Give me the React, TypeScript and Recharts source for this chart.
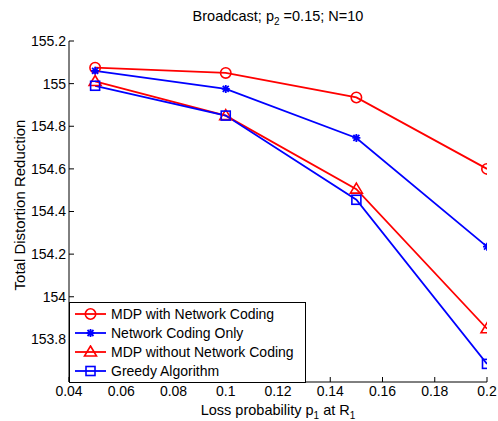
import { LineChart, Line, XAxis, YAxis } from "recharts"

// Broadcast; p2 = 0.15; N = 10 — distortion reduction vs. loss probability p1

const lossProb = [0.05, 0.1, 0.15, 0.2]
const mdpWithNC = [155.075, 155.05, 154.935, 154.6]
const ncOnly = [155.06, 154.975, 154.745, 154.235]
const mdpWithoutNC = [155.01, 154.85, 154.505, 153.85]
const greedy = [154.99, 154.85, 154.455, 153.685]

const xTicks = [0.04, 0.06, 0.08, 0.1, 0.12, 0.14, 0.16, 0.18, 0.2]
const yTicks = [153.8, 154, 154.2, 154.4, 154.6, 154.8, 155, 155.2]

const data = lossProb.map((p, i) => ({
  p,
  mdpNC: mdpWithNC[i],
  nc: ncOnly[i],
  mdp: mdpWithoutNC[i],
  greedy: greedy[i],
}))

const RED = "#ff0000"
const BLUE = "#0000ff"
const FONT = "'Liberation Sans', Arial, sans-serif"

type Shape = "circle" | "star" | "triangle" | "square"

function marker(shape: Shape, color: string, cx: number, cy: number, key?: string | number) {
  if (shape === "circle")
    return <circle key={key} cx={cx} cy={cy} r={5.2} fill="none" stroke={color} strokeWidth={1.6} />
  if (shape === "square")
    return <rect key={key} x={cx - 4.5} y={cy - 4.5} width={9} height={9} fill="none" stroke={color} strokeWidth={1.6} />
  if (shape === "triangle")
    return (
      <path key={key} d={`M${cx},${cy - 6} L${cx + 6},${cy + 4} L${cx - 6},${cy + 4} Z`} fill="none" stroke={color} strokeWidth={1.6} />
    )
  return (
    <path
      key={key}
      d={`M${cx - 4},${cy} L${cx + 4},${cy} M${cx},${cy - 4} L${cx},${cy + 4} M${cx - 3},${cy - 3} L${cx + 3},${cy + 3} M${cx - 3},${cy + 3} L${cx + 3},${cy - 3}`}
      stroke={color}
      strokeWidth={1.8}
    />
  )
}

const dot = (shape: Shape, color: string) => (props: any) => marker(shape, color, props.cx, props.cy, props.index)

const series: { key: string; name: string; color: string; shape: Shape }[] = [
  { key: "mdpNC", name: "MDP with Network Coding", color: RED, shape: "circle" },
  { key: "nc", name: "Network Coding Only", color: BLUE, shape: "star" },
  { key: "mdp", name: "MDP without Network Coding", color: RED, shape: "triangle" },
  { key: "greedy", name: "Greedy Algorithm", color: BLUE, shape: "square" },
]

function LegendBox() {
  return (
    <div
      style={{
        position: "absolute",
        left: 69,
        top: 302,
        width: 237,
        height: 81,
        border: "1px solid #000",
        background: "#fff",
        boxSizing: "border-box",
        paddingTop: 2,
      }}
    >
      {series.map((s) => (
        <div key={s.key} style={{ display: "flex", alignItems: "center", height: 18.8 }}>
          <svg width={36} height={14} style={{ marginLeft: 3, flex: "none" }}>
            <line x1={2} y1={7} x2={33} y2={7} stroke={s.color} strokeWidth={1.8} />
            {marker(s.shape, s.color, 17.5, 7)}
          </svg>
          <span style={{ fontFamily: FONT, fontSize: 14, color: "#000", marginLeft: 2, whiteSpace: "nowrap" }}>{s.name}</span>
        </div>
      ))}
    </div>
  )
}

export default function App() {
  const tickStyle = { fontSize: 14, fill: "#000", fontFamily: FONT }
  return (
    <div style={{ position: "absolute", left: 0, top: 0, width: 498, height: 421, background: "#fff" }}>
      <LineChart width={498} height={421} data={data} margin={{ top: 41, right: 11, bottom: 14, left: 19 }}>
        <XAxis
          dataKey="p"
          type="number"
          domain={[0.04, 0.2]}
          ticks={xTicks}
          tickFormatter={(v: number) => String(Number(v.toFixed(2)))}
          tick={tickStyle}
          tickSize={-5}
          tickMargin={9}
          height={25}
          stroke="#000"
          allowDataOverflow
        />
        <XAxis xAxisId="top" orientation="top" dataKey="p" type="number" domain={[0.04, 0.2]} ticks={xTicks} tickFormatter={() => ""} tickSize={-5} height={0} stroke="#000" />
        <YAxis
          type="number"
          domain={[153.6, 155.2]}
          ticks={yTicks}
          tickFormatter={(v: number) => String(Number(v.toFixed(1)))}
          tick={tickStyle}
          tickSize={-5}
          tickMargin={8}
          width={50}
          stroke="#000"
          allowDataOverflow
        />
        <YAxis yAxisId="right" orientation="right" type="number" domain={[153.6, 155.2]} ticks={yTicks} tickFormatter={() => ""} tickSize={-5} width={0} stroke="#000" />
        {series.map((s) => (
          <Line
            key={s.key}
            dataKey={s.key}
            name={s.name}
            stroke={s.color}
            strokeWidth={1.8}
            dot={dot(s.shape, s.color)}
            activeDot={false}
            isAnimationActive={false}
          />
        ))}
      </LineChart>
      <LegendBox />
      <div style={{ position: "absolute", left: 69, width: 418, top: 8, textAlign: "center", fontFamily: FONT, fontSize: 14.5, lineHeight: "17px" }}>
        Broadcast; p<sub style={{ fontSize: 10, lineHeight: 0 }}>2</sub> =0.15; N=10
      </div>
      <div style={{ position: "absolute", left: 69, width: 418, top: 402, textAlign: "center", fontFamily: FONT, fontSize: 14.5, lineHeight: "17px" }}>
        Loss probability p<sub style={{ fontSize: 10, lineHeight: 0 }}>1</sub> at R<sub style={{ fontSize: 10, lineHeight: 0 }}>1</sub>
      </div>
      <div
        style={{
          position: "absolute",
          left: 19,
          top: 205,
          transform: "translate(-50%, -50%) rotate(-90deg)",
          whiteSpace: "nowrap",
          fontFamily: FONT,
          fontSize: 15,
        }}
      >
        Total Distortion Reduction
      </div>
    </div>
  )
}
